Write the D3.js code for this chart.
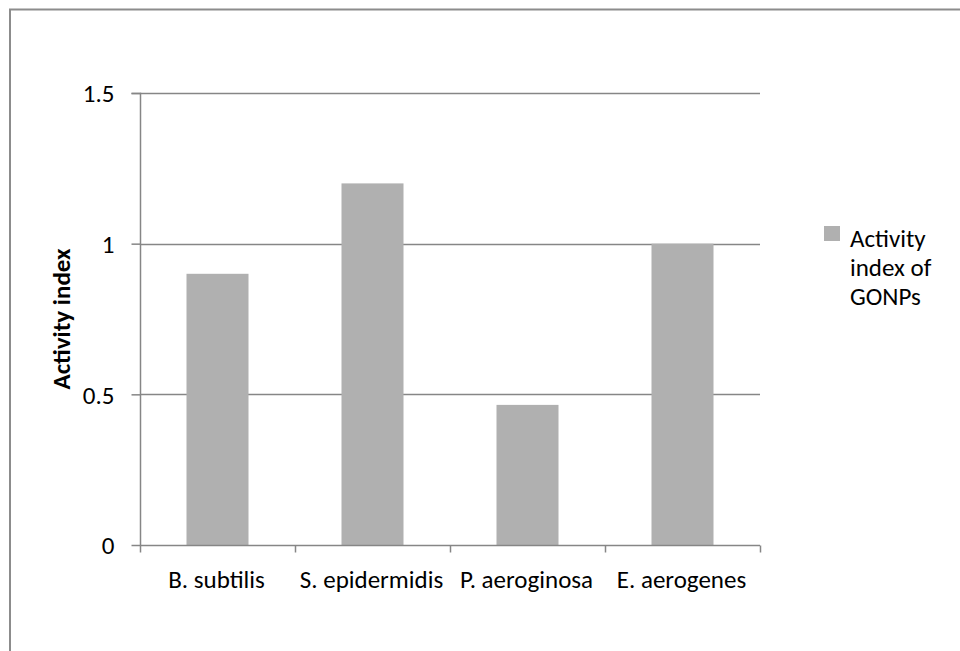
<!DOCTYPE html>
<html><head><meta charset="utf-8">
<script src="https://cdn.jsdelivr.net/npm/d3@7"></script>
<style>body{margin:0;background:#fff}svg{display:block}text{font-family:Carlito,Calibri,"Open Sans",sans-serif}</style>
</head><body>
<script>
const categories = ["B. subtilis","S. epidermidis","P. aeroginosa","E. aerogenes"];
const values = [0.9, 1.2, 0.465, 1.0];
const yTicks = [0, 0.5, 1, 1.5];
const yTickLabels = ["0","0.5","1","1.5"];
const seriesName = ["Activity","index of","GONPs"];

(function(){
const W = 960, H = 651;
const FS = 25;
const svg = d3.select("body").append("svg").attr("width", W).attr("height", H);

svg.append("rect").attr("x",10).attr("y",9.5).attr("width",1000).attr("height",1000)
  .attr("fill","none").attr("stroke","#8c8c8c").attr("stroke-width",2);

const pL = 140, pR = 760, pT = 93, pB = 545;
const x = d3.scaleBand().domain(categories).range([pL,pR]).paddingInner(0.6).paddingOuter(0.3);
const xb = d3.scaleBand().domain(categories).range([pL,pR]);
const y = d3.scaleLinear().domain([0,1.5]).range([pB, pT]);

svg.append("g").selectAll("line").data(yTicks.filter(d=>d>0)).join("line")
  .attr("x1",pL).attr("x2",pR).attr("y1",d=>Math.round(y(d))+0.5).attr("y2",d=>Math.round(y(d))+0.5)
  .attr("stroke","#868686").attr("stroke-width",1.5);

svg.append("g").selectAll("rect").data(values).join("rect")
  .attr("x",(d,i)=>x(categories[i])).attr("width",x.bandwidth())
  .attr("y",d=>y(d)).attr("height",d=>pB-y(d))
  .attr("fill","#b0b0b0");

const yAxis = d3.axisLeft(y).tickValues(yTicks).tickFormat((d,i)=>yTickLabels[i]).tickSize(9).tickPadding(17);
const gy = svg.append("g").attr("transform",`translate(${pL+0.5},0)`).call(yAxis);
gy.selectAll("path,line").attr("stroke","#868686").attr("stroke-width",1.5);
gy.select(".domain").attr("d",`M-9,${pT+0.5}H0V${pB+0.5}`);
gy.selectAll("text").attr("font-size",FS).attr("fill","#000").attr("dy","0.35em")
  .style("font-family","Carlito,Calibri,'Open Sans',sans-serif");

const gx = svg.append("g").attr("transform",`translate(0,${pB+0.5})`);
gx.append("line").attr("x1",pL).attr("x2",pR).attr("stroke","#868686").attr("stroke-width",1.5);
const bounds = categories.map(c=>xb(c)).concat([pR]);
gx.selectAll("line.t").data(bounds).join("line").attr("class","t")
  .attr("x1",d=>d+0.5).attr("x2",d=>d+0.5).attr("y1",0).attr("y2",7)
  .attr("stroke","#868686").attr("stroke-width",1.5);
gx.selectAll("text").data(categories).join("text")
  .attr("x",d=>xb(d)+xb.bandwidth()/2-1).attr("y",42).attr("text-anchor","middle")
  .attr("font-size",FS).text(d=>d);

svg.append("text").attr("transform",`translate(70,${(pT+pB)/2}) rotate(-90)`)
  .attr("text-anchor","middle").attr("font-size",FS).attr("font-weight","bold").text("Activity index");

svg.append("rect").attr("x",824).attr("y",226).attr("width",16).attr("height",15).attr("fill","#b0b0b0");
svg.append("g").selectAll("text").data(seriesName).join("text")
  .attr("x",850).attr("y",(d,i)=>247+i*29).attr("font-size",FS).text(d=>d);
})();
</script>
</body></html>
